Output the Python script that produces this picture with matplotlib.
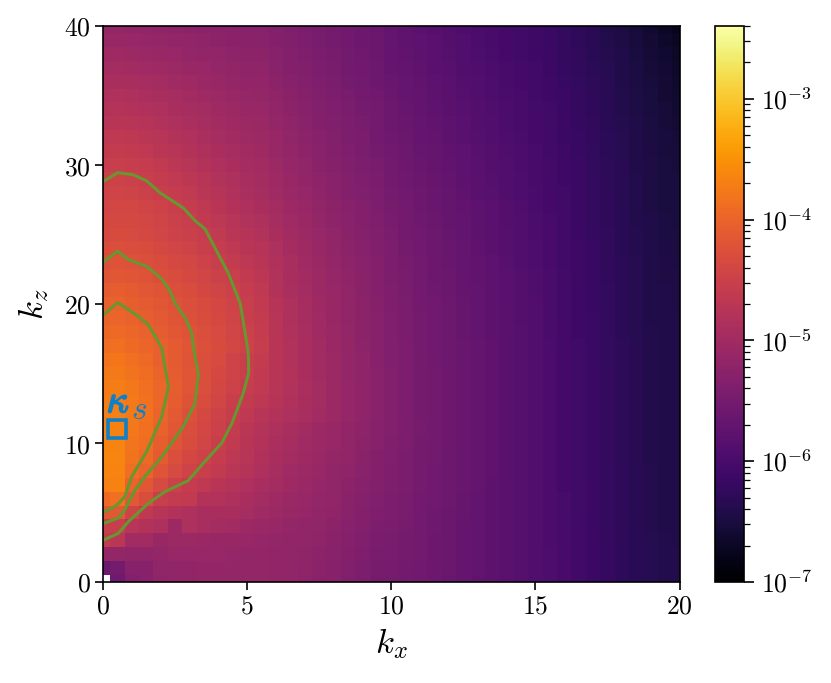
import numpy as np
from matplotlib import pyplot as plt
from matplotlib.colors import LogNorm
from matplotlib.ticker import FixedLocator, NullFormatter
import matplotlib.patheffects as pe

plt.rcParams['mathtext.fontset'] = 'cm'
plt.rcParams['font.family'] = ['DejaVu Serif']
plt.rcParams['axes.linewidth'] = 1.2

kx = np.arange(41) * 0.5
kz = np.arange(41)

# -100*log10(spectrum), first row is kz=40, last row kz=0
spectrum_rows = [
    [515,515,517,519,521,523,524,526,527,529,530,530,536,540,544,548,552,556,560,565,572,577,581,585,590,594,598,602,606,609,613,617,623,628,634,641,648,655,662,670,677],
    [510,510,512,514,516,518,520,522,524,526,527,528,534,538,542,546,550,555,559,563,570,575,579,583,588,592,596,600,604,608,612,616,622,627,633,639,646,652,658,665,672],
    [504,504,506,508,510,513,515,518,520,523,525,525,531,535,539,544,548,553,557,562,568,573,577,582,586,591,595,599,603,607,611,615,621,626,632,638,644,650,656,662,668],
    [497,497,499,502,504,507,510,513,516,519,522,522,528,533,537,542,546,551,555,560,567,571,575,580,584,589,593,597,601,605,610,614,620,625,631,636,642,648,654,660,665],
    [491,490,492,495,498,501,504,508,511,515,518,518,525,530,535,539,544,549,553,558,565,570,574,578,583,587,591,595,600,604,608,613,618,624,629,635,641,647,652,658,663],
    [486,484,486,489,492,495,499,503,507,511,514,515,522,527,532,537,542,547,551,556,563,568,572,577,581,586,590,594,598,602,607,611,617,622,628,634,640,646,651,657,661],
    [480,478,480,483,486,490,494,498,503,507,511,512,519,525,530,535,540,545,549,554,561,566,571,575,580,584,588,593,597,601,606,610,616,621,627,633,639,645,650,655,659],
    [474,472,474,477,481,485,489,494,499,503,507,509,516,522,528,533,538,543,547,552,559,564,569,573,578,583,587,591,596,600,604,609,615,620,626,632,638,644,649,654,657],
    [468,466,468,471,475,480,484,489,494,499,504,506,513,519,525,531,536,541,545,551,557,562,567,572,576,581,585,590,594,599,603,608,614,619,625,631,637,643,648,653,655],
    [462,460,462,465,470,475,479,485,490,495,500,503,510,516,523,528,534,539,544,549,555,561,566,570,575,579,584,588,593,597,602,607,613,618,624,630,636,642,647,652,653],
    [456,454,456,459,464,469,474,480,486,491,496,500,507,514,520,526,532,537,542,547,553,559,564,568,573,578,582,587,591,596,601,606,612,617,623,629,635,641,646,651,652],
    [450,448,450,454,458,463,469,475,482,487,492,497,504,511,517,523,529,535,540,545,551,557,562,566,571,576,581,585,590,595,600,605,611,617,623,629,635,640,645,650,651],
    [446,444,446,449,453,458,464,470,477,483,489,494,501,508,514,521,527,533,538,543,549,555,560,565,570,575,580,584,589,594,599,604,610,616,622,628,634,640,645,650,651],
    [442,440,441,444,448,453,459,465,472,479,485,491,498,505,512,519,525,531,536,542,548,554,559,564,569,574,579,583,588,593,598,603,609,615,621,628,634,640,645,650,650],
    [438,436,437,440,444,449,455,461,468,474,481,486,495,502,509,516,523,529,534,540,546,552,557,562,567,572,577,582,587,592,597,602,608,614,621,627,633,639,644,649,650],
    [436,433,434,437,442,447,451,457,464,470,477,481,491,499,506,513,520,526,532,538,545,551,556,561,566,571,576,581,586,591,596,601,608,614,620,626,632,638,644,648,649],
    [431,428,429,432,437,442,446,452,459,465,472,476,487,496,504,511,518,524,530,537,543,549,555,560,565,570,575,580,585,590,595,600,607,613,619,626,632,638,643,647,648],
    [426,423,424,427,432,437,441,447,454,460,467,472,484,493,501,509,516,523,529,536,542,548,554,559,564,569,574,579,584,589,594,600,607,613,619,625,631,637,642,646,647],
    [420,417,418,422,427,432,436,442,449,455,462,469,482,491,499,507,514,521,527,534,541,547,553,558,563,568,573,578,583,588,593,599,606,612,618,625,631,637,642,645,646],
    [412,408,411,416,421,427,432,438,444,450,458,465,479,488,497,505,512,519,526,533,540,546,552,557,562,567,572,577,582,588,593,599,606,612,618,624,630,636,641,644,645],
    [405,402,406,411,417,423,428,433,439,446,454,462,477,486,495,503,511,518,525,532,539,545,551,556,561,566,571,576,581,587,592,598,605,611,618,624,630,636,641,643,645],
    [401,398,402,407,413,420,425,431,437,444,452,460,475,485,494,502,510,517,524,531,538,544,550,556,561,566,571,576,581,587,592,598,605,611,617,624,630,636,641,643,644],
    [396,393,397,403,409,416,422,428,435,442,450,458,473,483,492,501,509,516,524,531,538,544,550,555,560,566,571,576,581,586,592,598,604,611,617,623,630,636,640,643,644],
    [390,387,392,398,405,412,419,426,433,440,448,456,472,482,491,500,508,516,523,530,537,543,549,555,560,565,570,575,581,586,592,597,604,610,617,623,629,635,640,642,644],
    [383,380,386,394,404,412,420,427,435,445,452,460,473,481,490,499,507,515,522,530,537,543,549,555,560,565,570,575,580,586,591,597,604,610,616,623,629,635,640,642,644],
    [378,376,382,390,401,410,419,427,436,446,453,461,473,480,490,499,507,515,522,529,536,542,549,554,559,565,570,575,580,586,591,597,604,610,616,622,629,635,640,642,644],
    [374,372,378,387,397,408,419,428,438,448,456,463,474,481,489,498,506,514,522,529,536,542,549,554,559,565,570,575,580,585,591,597,603,610,616,622,629,635,639,642,643],
    [372,370,376,385,397,409,422,432,442,452,460,468,476,483,490,498,506,514,521,529,536,542,549,554,559,565,570,575,580,585,591,597,603,610,616,622,629,635,639,642,643],
    [369,368,376,385,399,413,426,437,447,457,466,474,480,487,493,500,507,514,521,528,536,542,549,554,559,565,570,575,580,585,591,597,603,610,616,622,629,635,639,642,643],
    [367,367,378,387,402,416,430,440,450,460,470,478,486,493,500,505,511,517,523,530,536,542,548,554,559,565,570,575,580,585,591,597,603,610,616,622,629,635,639,642,643],
    [365,365,381,388,406,421,432,442,452,462,472,480,488,495,502,507,513,518,524,531,537,543,549,554,559,565,570,575,580,585,591,597,603,610,616,622,629,635,639,642,643],
    [363,363,382,392,411,427,438,448,458,468,475,483,491,498,504,509,515,520,526,533,538,544,549,554,560,565,570,575,580,585,591,597,603,610,616,622,629,635,639,642,643],
    [364,364,388,401,421,435,445,452,462,470,478,486,494,501,506,511,517,522,528,534,539,544,550,555,560,565,570,575,581,586,591,597,603,609,616,622,628,634,638,641,642],
    [368,367,401,416,435,450,458,466,472,478,485,492,498,504,509,514,519,524,530,536,540,545,550,555,560,565,570,576,581,586,591,596,603,609,615,622,628,634,638,641,642],
    [392,386,415,430,455,460,462,480,480,487,490,497,503,508,512,516,520,526,532,538,542,546,551,556,561,566,571,576,581,586,591,596,602,609,615,621,628,634,638,641,642],
    [415,415,445,465,475,480,487,490,490,490,495,501,506,510,514,518,522,528,534,540,543,547,552,557,562,566,571,576,581,586,591,596,602,609,615,621,628,634,638,641,642],
    [455,455,475,480,485,505,487,492,497,500,505,509,512,515,518,520,524,530,536,542,545,548,553,557,562,567,571,576,581,586,590,596,602,608,614,621,627,633,638,641,641],
    [460,470,500,500,510,507,507,508,510,511,512,514,516,518,520,522,526,532,538,544,546,549,553,558,562,567,572,576,581,585,590,596,602,608,614,620,627,633,637,640,641],
    [515,515,520,520,515,512,512,512,513,514,515,516,518,520,522,524,528,534,540,546,547,550,554,558,563,567,572,576,581,585,590,595,601,608,614,620,627,633,637,640,640],
    [560,550,530,530,520,520,518,516,516,515,515,516,518,520,522,525,530,536,542,548,548,551,555,559,563,568,572,577,581,585,590,595,601,608,614,620,627,633,637,640,640],
    [np.nan,555,535,530,522,520,518,516,516,515,515,516,518,520,523,526,531,537,543,549,549,552,556,560,564,568,573,577,582,586,590,595,601,608,614,620,627,633,637,640,640],
]

# contour lines, (kx, kz)
outer_kx = [0, 0.51, 1.05, 1.52, 1.98, 2.79, 3.19, 3.54, 4.35, 4.76, 5.02, 5.05, 5.05, 4.87, 4.47, 4.12, 3.48, 2.96, 2.15, 1.57, 0.88, 0.53, 0]
outer_kz = [28.8, 29.45, 29.3, 28.85, 28.0, 26.9, 26.0, 25.4, 22.2, 20.05, 16.8, 16.0, 15.0, 13.6, 11.4, 10.0, 8.55, 7.3, 6.5, 5.66, 4.34, 3.5, 3.0]
middle_kx = [0, 0.51, 0.88, 1.52, 2.04, 2.33, 2.5, 2.85, 3.08, 3.14, 3.31, 3.19, 2.79, 2.04, 1.46, 1.11, 0.76, 0.53, 0]
middle_kz = [23.0, 23.8, 23.2, 22.7, 21.8, 20.9, 20.05, 19.0, 17.9, 16.8, 15.0, 12.85, 11.2, 9.0, 7.6, 6.6, 5.2, 4.6, 4.2]
inner_kx = [0, 0.51, 1.17, 1.57, 1.86, 2.04, 2.27, 2.04, 1.52, 1.0, 0.76, 0.47, 0]
inner_kz = [19.2, 20.1, 19.2, 18.5, 17.5, 16.8, 14.05, 11.9, 9.4, 7.6, 6.15, 5.5, 5.0]

kappa_kx = 0.5
kappa_kz = 11

green = '#68962f'
blue = '#0f80c8'

spectrum = 10.0 ** (-np.array(spectrum_rows)[::-1] / 100)

fig = plt.figure(figsize=(8.31, 6.83), dpi=100)
ax = fig.add_axes([103 / 831, 1 - 582 / 683, 576.5 / 831, 556 / 683])
cax = fig.add_axes([715 / 831, 1 - 582 / 683, 29 / 831, 556 / 683])

mesh = ax.pcolormesh(kx, kz, spectrum, cmap='inferno', norm=LogNorm(1e-7, 4e-3), shading='nearest')
for line_kx, line_kz in [(outer_kx, outer_kz), (middle_kx, middle_kz), (inner_kx, inner_kz)]:
    ax.plot(line_kx, line_kz, color=green, lw=2.2)
ax.plot([kappa_kx], [kappa_kz], 's', ms=12.5, mfc='none', mec=blue, mew=2.6)
ax.text(0.12, 12.2, r'$\kappa$', color=blue, fontsize=28, va='baseline',
        path_effects=[pe.withStroke(linewidth=1.2, foreground=blue)])
ax.text(0.98, 11.75, r'$s$', color=blue, fontsize=24, va='baseline')

ax.set_xlim(0, 20)
ax.set_ylim(0, 40)
ax.set_xticks([0, 5, 10, 15, 20])
ax.set_xticklabels(['$0$', '$5$', '$10$', '$15$', '$20$'])
ax.set_yticks([0, 10, 20, 30, 40])
ax.set_yticklabels(['$0$', '$10$', '$20$', '$30$', '$40$'])
ax.tick_params(labelsize=18.5, length=5.5, width=1.2, pad=3)
ax.set_xlabel('$k_x$', fontsize=25, labelpad=5)
ax.set_ylabel('$k_z$', fontsize=25, labelpad=10)

cbar = fig.colorbar(mesh, cax=cax)
cbar.ax.yaxis.set_major_locator(FixedLocator([1e-7, 1e-6, 1e-5, 1e-4, 1e-3]))
cbar.ax.set_yticklabels(['$10^{-7}$', '$10^{-6}$', '$10^{-5}$', '$10^{-4}$', '$10^{-3}$'])
cbar.ax.yaxis.set_minor_formatter(NullFormatter())
cbar.ax.tick_params(which='major', labelsize=18.5, length=7, width=1.2, pad=5)
cbar.ax.tick_params(which='minor', length=4, width=0.9)
cbar.outline.set_linewidth(1.2)

fig.savefig('out.png', dpi=100)
